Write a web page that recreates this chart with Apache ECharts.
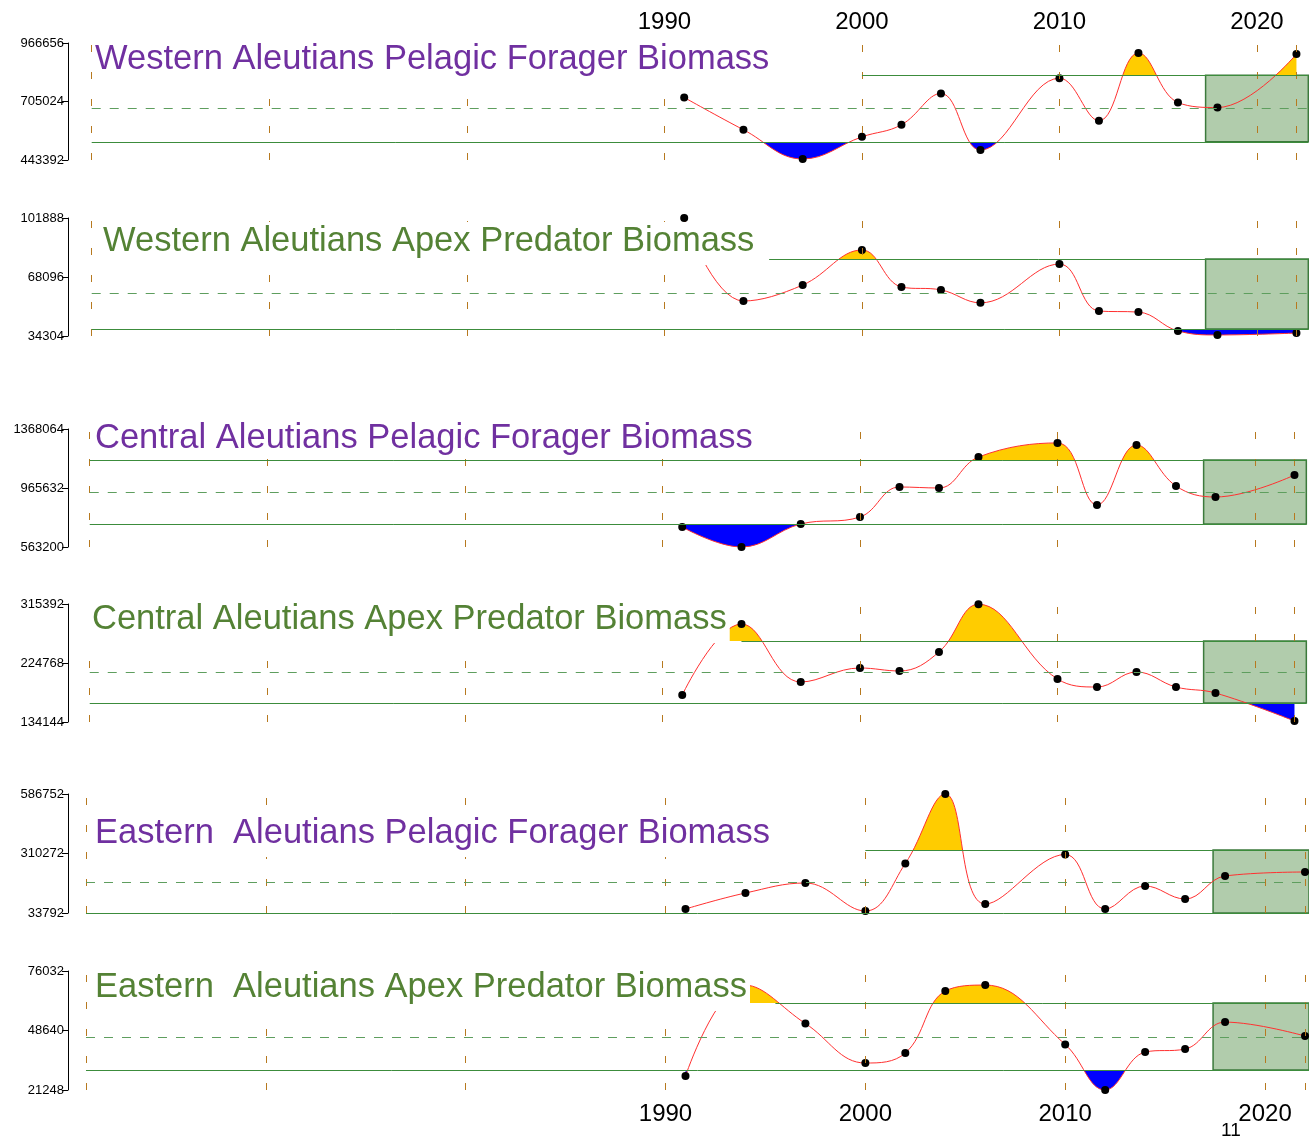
<!DOCTYPE html>
<html>
<head>
<meta charset="utf-8">
<script src="https://cdn.jsdelivr.net/npm/echarts@6/dist/echarts.min.js"></script>
<style>
html,body{margin:0;padding:0;background:#fff;}
#main{width:1309px;height:1142px;}
</style>
</head>
<body>
<div id="main"></div>
<script>
// years of the survey points
var years = [1991, 1994, 1997, 2000, 2002, 2004, 2006, 2010, 2012, 2014, 2016, 2018, 2022];

var titles = [
	'Western Aleutians Pelagic Forager Biomass',
	'Western Aleutians Apex Predator Biomass',
	'Central Aleutians Pelagic Forager Biomass',
	'Central Aleutians Apex Predator Biomass',
	'Eastern  Aleutians Pelagic Forager Biomass',
	'Eastern  Aleutians Apex Predator Biomass'
];

// biomass values per panel
var waPelagic = [723000, 578700, 448000, 547000, 601000, 741000, 488000, 809000, 619000, 922000, 700500, 678000, 917000];
var waApex    = [101888, 54350, 63500, 83560, 62400, 60700, 53300, 75500, 48600, 48000, 37200, 34900, 36000];
var caPelagic = [699600, 563200, 720000, 767800, 972500, 965632, 1177000, 1273000, 850000, 1259000, 979300, 904300, 1054000];
var caApex    = [175600, 284700, 195600, 217100, 212500, 241700, 315000, 200200, 187900, 211000, 187900, 178700, 135700];
var eaPelagic = [52400, 126700, 173200, 43100, 263800, 586752, 75600, 305600, 52400, 159300, 98900, 205700, 224300];
var eaApex    = [27700, 69500, 51860, 33670, 38270, 66800, 69560, 42200, 21248, 38700, 40100, 52500, 46100];
var values = [waPelagic, waApex, caPelagic, caApex, eaPelagic, eaApex];

// axis ticks (min, max) per panel
var yMin = [443392, 34304, 563200, 134144, 33792, 21248];
var yMax = [966656, 101888, 1368064, 315392, 586752, 76032];

// thresholds: upper, mean, lower, and year the upper line starts
var upper = [822000, 78400, 1157000, 258600, 326500, 61300];
var mean  = [673000, 58900, 938400, 211000, 177900, 45650];
var lower = [525000, 38300, 720000, 163300, 33792, 30450];
var upperStart = [2000, 1995.3, 1961, 1994, 2000, 1995.5];

var decades = [1961, 1970, 1980, 1990, 2000, 2010, 2020, 2022];
var yearLabels = [1990, 2000, 2010, 2020];
var boxStart = 2017.4;

var tops = [43, 218, 429, 604, 794, 971];
var heights = [117, 118, 118, 118, 119, 119];
var xMin = [1959.8, 1959.8, 1959.9, 1959.9, 1960.1, 1960.1];
var xMax = [2022.6, 2022.6, 2022.6, 2022.6, 2022.2, 2022.2];
var pxYear = [19.75, 19.75, 19.75, 19.75, 20, 20];
var titleTop = [40, 222, 419, 600, 814, 968];
var titleLeft = [92, 100, 92, 89, 92, 92];
var titlePadBottom = [6, 6, 1, 6, 6, 6];
var titleColor = ['#7030A0', '#548235', '#7030A0', '#548235', '#7030A0', '#548235'];

var H = 1142;
var grids = [], xAxes = [], yAxes = [], series = [], titleOpts = [];

function fillColor(color, px, above)
{
	var o = px / H;
	var t = 'rgba(0,0,0,0)';
	return new echarts.graphic.LinearGradient(0, 0, 0, H, [
		{ offset: 0, color: above ? color : t },
		{ offset: o, color: above ? color : t },
		{ offset: o, color: above ? t : color },
		{ offset: 1, color: above ? t : color }
	], true);
}

for (var i = 0; i < 6; i++)
{
	grids.push({ left: 68, top: tops[i], height: heights[i], width: (xMax[i] - xMin[i]) * pxYear[i] });
	xAxes.push({
		type: 'value', gridIndex: i, min: xMin[i], max: xMax[i],
		position: i == 0 ? 'top' : 'bottom',
		axisLine: { show: false }, axisTick: { show: false }, splitLine: { show: false },
		axisLabel: {
			show: i == 0 || i == 5, customValues: yearLabels, margin: i == 0 ? 9 : 12,
			fontSize: 24, color: '#000', fontFamily: 'Liberation Sans',
			formatter: function (v) { return String(v); }
		}
	});
	yAxes.push({
		type: 'value', gridIndex: i, min: yMin[i], max: yMax[i],
		interval: (yMax[i] - yMin[i]) / 2,
		axisLine: { show: true, lineStyle: { color: '#000' } },
		axisTick: { show: true, length: 6, lineStyle: { color: '#000' } },
		splitLine: { show: false },
		axisLabel: { fontSize: 13, color: '#000', margin: 4, fontFamily: 'Liberation Sans',
			formatter: function (v) { return String(Math.round(v)); } }
	});

	var data = [];
	for (var k = 0; k < years.length; k++) data.push([years[k], values[i][k]]);

	var vlines = decades.map(function (d) { return { xAxis: d }; });
	var hlines = [
		[{ coord: [upperStart[i], upper[i]], lineStyle: { color: '#3C8C3C', type: 'solid', width: 1 } }, { coord: [xMax[i], upper[i]] }],
		[{ coord: [1961, mean[i]], lineStyle: { color: '#5E9E5E', type: [9, 9], width: 1 } }, { coord: [xMax[i], mean[i]] }],
		[{ coord: [1961, lower[i]], lineStyle: { color: '#3C8C3C', type: 'solid', width: 1 } }, { coord: [xMax[i], lower[i]] }]
	];

	// yellow fill above upper
	series.push({
		id: 'up' + i, type: 'line', xAxisIndex: i, yAxisIndex: i, data: data, smooth: 0.4,
		symbol: 'none', lineStyle: { opacity: 0 }, z: 1, silent: true,
		areaStyle: { origin: upper[i], opacity: 0 }
	});
	// blue fill below lower
	series.push({
		id: 'lo' + i, type: 'line', xAxisIndex: i, yAxisIndex: i, data: data, smooth: 0.4,
		symbol: 'none', lineStyle: { opacity: 0 }, z: 1, silent: true,
		areaStyle: { origin: lower[i], opacity: 0 }
	});
	// reference lines, box and curve
	series.push({
		type: 'line', xAxisIndex: i, yAxisIndex: i, data: data, smooth: 0.4, z: 3,
		symbol: 'circle', symbolSize: 8, itemStyle: { color: '#000' },
		lineStyle: { color: '#FF3030', width: 1 },
		markArea: {
			silent: true,
			itemStyle: { color: '#B1CCAC', borderColor: '#3C7A3C', borderWidth: 1.5 },
			data: [[{ coord: [boxStart, upper[i]] }, { coord: [xMax[i], lower[i]] }]]
		},
		markLine: {
			silent: true, symbol: 'none', label: { show: false },
			lineStyle: { color: '#B7791F', type: [7, 20], width: 1 },
			data: vlines.concat(hlines)
		}
	});

	titleOpts.push({
		text: titles[i], left: titleLeft[i], top: titleTop[i], padding: [2, 3, titlePadBottom[i], 3],
		backgroundColor: '#fff',
		textStyle: { fontSize: 34.5, fontWeight: 'normal', color: titleColor[i], fontFamily: 'Liberation Sans' }
	});
}

titleOpts.push({ text: '11', left: 1221, top: 1121, padding: 0,
	textStyle: { fontSize: 19, fontWeight: 'normal', color: '#000', fontFamily: 'Liberation Sans' } });

var myChart = echarts.init(document.getElementById('main'), null, { renderer: 'canvas' });
myChart.setOption({
	backgroundColor: '#fff',
	animation: false,
	title: titleOpts,
	grid: grids,
	xAxis: xAxes,
	yAxis: yAxes,
	series: series
});

// colour the fills with hard-edged gradients at the threshold pixel rows
var upd = [];
for (var j = 0; j < 6; j++)
{
	var pu = myChart.convertToPixel({ gridIndex: j }, [2000, upper[j]])[1];
	var pl = myChart.convertToPixel({ gridIndex: j }, [2000, lower[j]])[1];
	upd.push({ id: 'up' + j, areaStyle: { opacity: 1, color: fillColor('#FFCC00', pu, true) } });
	upd.push({ id: 'lo' + j, areaStyle: { opacity: 1, color: fillColor('#0000FF', pl, false) } });
}
myChart.setOption({ series: upd });
</script>
</body>
</html>
